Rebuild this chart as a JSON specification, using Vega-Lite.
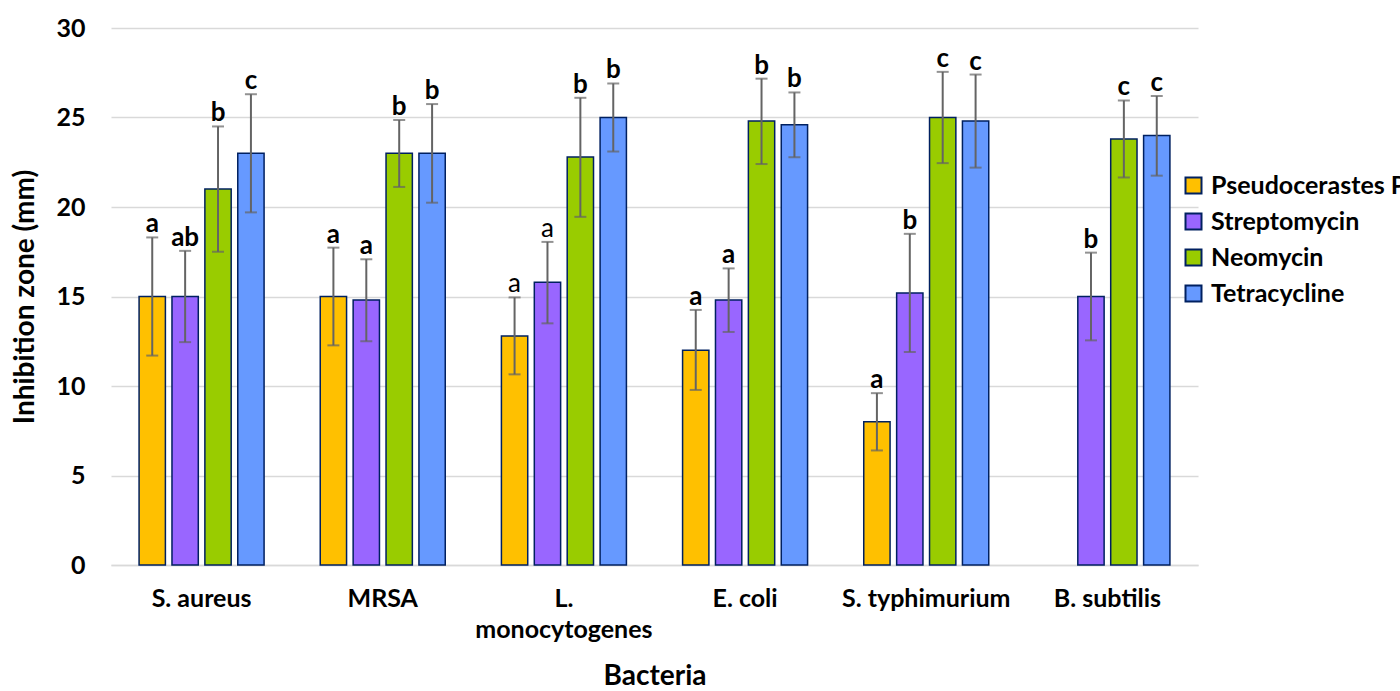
{
  "$schema": "https://vega.github.io/schema/vega-lite/v6.json",
  "width": 1087,
  "height": 537,
  "autosize": {"type": "none"},
  "padding": {"left": 111, "top": 28, "right": 202, "bottom": 126},
  "background": "white",
  "config": {
    "font": "Lato",
    "view": {"stroke": null},
    "axis": {"labelFont": "Lato", "titleFont": "Lato", "labelFontWeight": "bold", "titleFontWeight": "bold", "labelColor": "black", "titleColor": "black"},
    "legend": {"labelFont": "Lato", "labelFontWeight": "bold", "labelColor": "black"}
  },
  "data": {"values": [
    {"bacteria": "S. aureus", "drug": "Pseudocerastes P", "mean": 15.0, "lo": 11.7, "hi": 18.3, "letter": "a", "weight": "bold"},
    {"bacteria": "S. aureus", "drug": "Streptomycin", "mean": 15.0, "lo": 12.45, "hi": 17.55, "letter": "ab", "weight": "bold"},
    {"bacteria": "S. aureus", "drug": "Neomycin", "mean": 21.0, "lo": 17.5, "hi": 24.5, "letter": "b", "weight": "bold"},
    {"bacteria": "S. aureus", "drug": "Tetracycline", "mean": 23.0, "lo": 19.7, "hi": 26.3, "letter": "c", "weight": "bold"},
    {"bacteria": "MRSA", "drug": "Pseudocerastes P", "mean": 15.0, "lo": 12.27, "hi": 17.73, "letter": "a", "weight": "bold"},
    {"bacteria": "MRSA", "drug": "Streptomycin", "mean": 14.8, "lo": 12.5, "hi": 17.08, "letter": "a", "weight": "bold"},
    {"bacteria": "MRSA", "drug": "Neomycin", "mean": 23.0, "lo": 21.12, "hi": 24.86, "letter": "b", "weight": "bold"},
    {"bacteria": "MRSA", "drug": "Tetracycline", "mean": 23.0, "lo": 20.24, "hi": 25.75, "letter": "b", "weight": "bold"},
    {"bacteria": "L. monocytogenes", "drug": "Pseudocerastes P", "mean": 12.8, "lo": 10.65, "hi": 14.95, "letter": "a", "weight": "normal"},
    {"bacteria": "L. monocytogenes", "drug": "Streptomycin", "mean": 15.8, "lo": 13.5, "hi": 18.05, "letter": "a", "weight": "normal"},
    {"bacteria": "L. monocytogenes", "drug": "Neomycin", "mean": 22.8, "lo": 19.45, "hi": 26.1, "letter": "b", "weight": "bold"},
    {"bacteria": "L. monocytogenes", "drug": "Tetracycline", "mean": 25.0, "lo": 23.1, "hi": 26.9, "letter": "b", "weight": "bold"},
    {"bacteria": "E. coli", "drug": "Pseudocerastes P", "mean": 12.0, "lo": 9.78, "hi": 14.25, "letter": "a", "weight": "bold"},
    {"bacteria": "E. coli", "drug": "Streptomycin", "mean": 14.8, "lo": 13.02, "hi": 16.57, "letter": "a", "weight": "bold"},
    {"bacteria": "E. coli", "drug": "Neomycin", "mean": 24.8, "lo": 22.4, "hi": 27.17, "letter": "b", "weight": "bold"},
    {"bacteria": "E. coli", "drug": "Tetracycline", "mean": 24.6, "lo": 22.78, "hi": 26.4, "letter": "b", "weight": "bold"},
    {"bacteria": "S. typhimurium", "drug": "Pseudocerastes P", "mean": 8.0, "lo": 6.4, "hi": 9.6, "letter": "a", "weight": "bold"},
    {"bacteria": "S. typhimurium", "drug": "Streptomycin", "mean": 15.2, "lo": 11.9, "hi": 18.5, "letter": "b", "weight": "bold"},
    {"bacteria": "S. typhimurium", "drug": "Neomycin", "mean": 25.0, "lo": 22.45, "hi": 27.55, "letter": "c", "weight": "bold"},
    {"bacteria": "S. typhimurium", "drug": "Tetracycline", "mean": 24.8, "lo": 22.2, "hi": 27.4, "letter": "c", "weight": "bold"},
    {"bacteria": "B. subtilis", "drug": "Streptomycin", "mean": 15.0, "lo": 12.55, "hi": 17.45, "letter": "b", "weight": "bold"},
    {"bacteria": "B. subtilis", "drug": "Neomycin", "mean": 23.8, "lo": 21.65, "hi": 25.95, "letter": "c", "weight": "bold"},
    {"bacteria": "B. subtilis", "drug": "Tetracycline", "mean": 24.0, "lo": 21.75, "hi": 26.2, "letter": "c", "weight": "bold"}
  ]},
  "encoding": {
    "x": {
      "field": "bacteria", "type": "nominal",
      "sort": ["S. aureus", "MRSA", "L. monocytogenes", "E. coli", "S. typhimurium", "B. subtilis"],
      "scale": {"paddingInner": 0.31, "paddingOuter": 0.155},
      "axis": {
        "title": "Bacteria", "titleFontSize": 28, "titlePadding": 20,
        "labelAngle": 0, "labelFontSize": 25, "labelPadding": 21, "labelLineHeight": 31,
        "labelExpr": "datum.value == 'L. monocytogenes' ? ['L.', 'monocytogenes'] : datum.value",
        "ticks": false, "domainColor": "#d9d9d9", "domainWidth": 1.5, "grid": false
      }
    },
    "xOffset": {
      "field": "drug", "type": "nominal",
      "scale": {"domain": ["Pseudocerastes P", "Streptomycin", "Neomycin", "Tetracycline"], "paddingInner": 0.2, "paddingOuter": 0}
    }
  },
  "layer": [
    {
      "mark": {"type": "bar", "stroke": "#002060", "strokeWidth": 1.5},
      "encoding": {
        "y": {
          "field": "mean", "type": "quantitative",
          "scale": {"domain": [0, 30], "nice": false},
          "axis": {
            "title": "Inhibition zone (mm)", "titleFontSize": 28, "titlePadding": 16,
            "values": [0, 5, 10, 15, 20, 25, 30], "labelFontSize": 25, "labelPadding": 26,
            "ticks": false, "domain": false, "gridColor": "#d9d9d9", "gridWidth": 1.5
          }
        },
        "color": {
          "field": "drug", "type": "nominal",
          "scale": {"domain": ["Pseudocerastes P", "Streptomycin", "Neomycin", "Tetracycline"], "range": ["#FFC000", "#9966FF", "#99CC00", "#6699FF"]},
          "legend": {
            "title": null, "orient": "none", "legendX": 1070, "legendY": 145,
            "symbolType": "square", "symbolSize": 256, "symbolStrokeColor": "#002060", "symbolStrokeWidth": 2,
            "labelFontSize": 25, "labelOffset": 5, "rowPadding": 10, "labelLimit": 400
          }
        }
      }
    },
    {
      "mark": {"type": "rule", "color": "#646464", "strokeWidth": 2},
      "encoding": {
        "y": {"field": "lo", "type": "quantitative"},
        "y2": {"field": "hi"}
      }
    },
    {
      "mark": {"type": "tick", "color": "#646464", "thickness": 2, "size": 12, "orient": "horizontal"},
      "encoding": {"y": {"field": "lo", "type": "quantitative"}}
    },
    {
      "mark": {"type": "tick", "color": "#646464", "thickness": 2, "size": 12, "orient": "horizontal"},
      "encoding": {"y": {"field": "hi", "type": "quantitative"}}
    },
    {
      "transform": [{"filter": "datum.weight == 'bold'"}],
      "mark": {"type": "text", "fontSize": 26, "fontWeight": "bold", "baseline": "alphabetic", "dy": -5, "color": "black"},
      "encoding": {
        "y": {"field": "hi", "type": "quantitative"},
        "text": {"field": "letter"}
      }
    },
    {
      "transform": [{"filter": "datum.weight == 'normal'"}],
      "mark": {"type": "text", "fontSize": 26, "fontWeight": "normal", "baseline": "alphabetic", "dy": -5, "color": "black"},
      "encoding": {
        "y": {"field": "hi", "type": "quantitative"},
        "text": {"field": "letter"}
      }
    }
  ]
}
